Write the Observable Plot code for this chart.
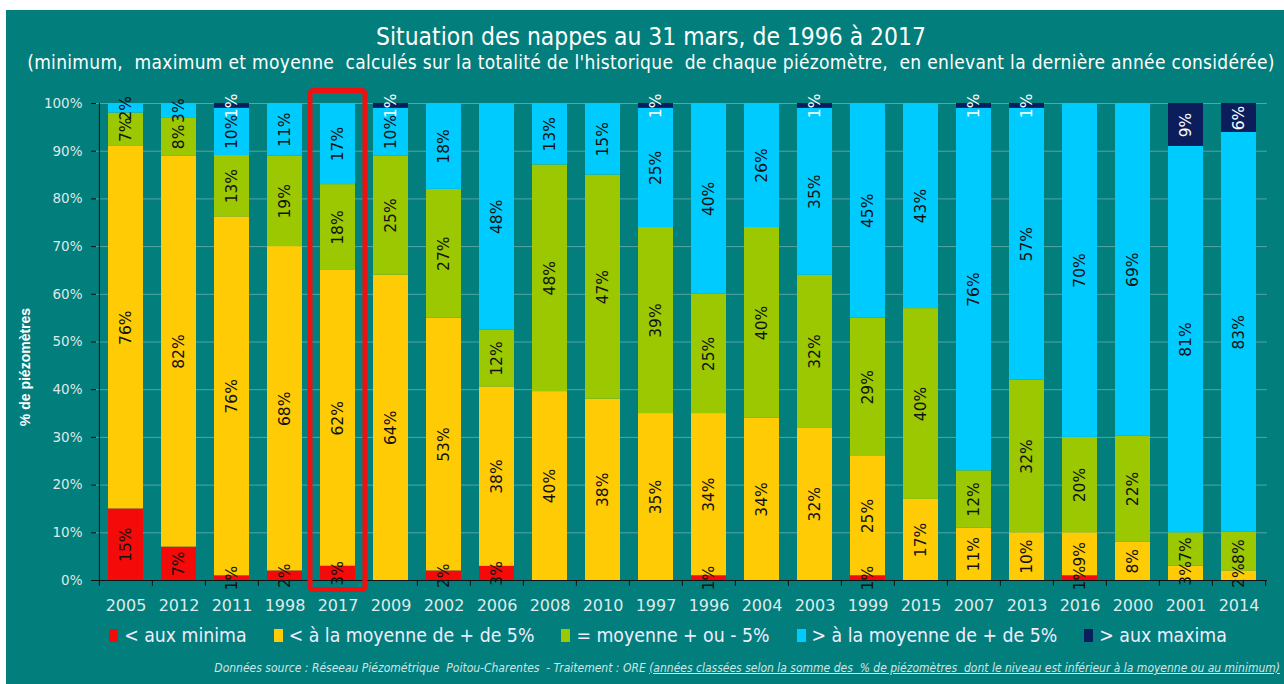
<!DOCTYPE html>
<html><head><meta charset="utf-8">
<script src="https://cdn.jsdelivr.net/npm/d3@7"></script>
<script src="https://cdn.jsdelivr.net/npm/@observablehq/plot@0.6"></script>
<style>
html,body{margin:0;padding:0;background:#fff;width:1284px;height:684px;overflow:hidden;}
#wrap{position:absolute;left:6px;top:10px;width:1278px;height:674px;background:#027e7c;overflow:hidden;font-family:"Liberation Sans Narrow","DejaVu Sans Condensed",sans-serif;color:#fff;}
#title{position:absolute;top:12px;left:0;width:1290px;text-align:center;font-size:24.4px;white-space:nowrap;}
#subtitle{position:absolute;top:41px;left:0;width:1290px;text-align:center;font-size:19px;white-space:nowrap;letter-spacing:0.3px;}
#chart{position:absolute;top:70px;left:0;}
#ytitle{position:absolute;left:19px;top:357px;transform:translate(-50%,-50%) rotate(-90deg);font-family:"Liberation Sans",sans-serif;font-weight:bold;font-size:14px;white-space:nowrap;}
#legend{position:absolute;top:614px;left:23px;width:1278px;display:flex;justify-content:center;font-size:19.3px;color:#eef;}
#legend .item{display:flex;align-items:center;margin:0 13.5px;}
#legend .sw{width:9px;height:13px;margin-right:6px;}
#footer{position:absolute;top:651px;right:4px;font-size:12px;font-style:italic;color:#cfe6e6;white-space:nowrap;}
#footer u{text-decoration:underline;}
</style></head>
<body>
<div id="wrap">
<div id="title">Situation des nappes au 31 mars, de 1996 à 2017</div>
<div id="subtitle">(minimum,&nbsp; maximum et moyenne &nbsp;calculés sur la totalité de l'historique &nbsp;de chaque piézomètre, &nbsp;en enlevant la dernière année considérée)</div>
<div id="chart"></div>
<div id="ytitle">% de piézomètres</div>
<div id="legend"></div>
<div id="footer">Données source : Réseeau Piézométrique &nbsp;Poitou-Charentes &nbsp;- Traitement : ORE <u>(années classées selon la somme des &nbsp;% de piézomètres &nbsp;dont le niveau est inférieur à la moyenne ou au minimum)</u></div>
</div>
<script>
const years = ["2005","2012","2011","1998","2017","2009","2002","2006","2008","2010","1997","1996","2004","2003","1999","2015","2007","2013","2016","2000","2001","2014"];
const minima = [15,7,1,2,3,0,2,3,0,0,0,1,0,0,1,0,0,0,1,0,0,0];
const below  = [76,82,76,68,62,64,53,38,40,38,35,34,34,32,25,17,11,10,9,8,3,2];
const mean   = [7,8,13,19,18,25,27,12,48,47,39,25,40,32,29,40,12,32,20,22,7,8];
const above  = [2,3,10,11,17,10,18,48,13,15,25,40,26,35,45,43,76,57,70,69,81,83];
const maxima = [0,0,1,0,0,1,0,0,0,0,1,0,0,1,0,0,1,1,0,0,9,6];
const categories = ["< aux minima","< à la moyenne de + de 5%","= moyenne + ou - 5%","> à la moyenne de + de 5%","> aux maxima"];
const colors = ["#f50a0a","#ffcb05","#9bc800","#00cbff","#0b1e5b"];
const highlight = ["2017"];
const yTicks = [0,0.1,0.2,0.3,0.4,0.5,0.6,0.7,0.8,0.9,1];

const series = [minima, below, mean, above, maxima];
const data = years.flatMap((y,i)=>series.map((s,k)=>({year:y, cat:categories[k], value:s[i]}))).filter(d=>d.value>0);

const W=1278, H=545, ml=90, mr=17, mt=23, mb=45;
const step=(W-ml-mr)/years.length;
const stk = {x:"year", y:"value", z:"cat", offset:"normalize"};

const chart = Plot.plot({
  width:W, height:H, marginLeft:ml, marginRight:mr, marginTop:mt, marginBottom:mb,
  style:{background:"transparent", color:"#e4f0f0", fontFamily:"DejaVu Sans, sans-serif", overflow:"visible"},
  x:{domain:years, paddingInner:0.34, paddingOuter:0.17, label:null},
  y:{domain:[0,1], label:null},
  color:{domain:categories, range:colors},
  marks:[
    Plot.gridY(yTicks.slice(1), {stroke:"#b9d6d6", strokeOpacity:0.45}),
    Plot.barY(data, Plot.stackY({...stk, fill:"cat"})),
    Plot.text(data, Plot.stackY({...stk, text:d=>d.cat!==categories[4]?d.value+"%":null, rotate:-90, fill:"#111", fontSize:15.5})),
    Plot.text(data, Plot.stackY({...stk, text:d=>d.cat===categories[4]?d.value+"%":null, rotate:-90, fill:"#fff", fontSize:15.5})),
    Plot.ruleY([0], {stroke:"#111"}),
    Plot.ruleX([years[0]], {dx:-step/2, y1:0, y2:1, stroke:"#111"}),
    Plot.ruleX(years, {dx:-step/2, y1:0, y2:-0.012, stroke:"#111"}),
    Plot.ruleX([years[years.length-1]], {dx:step/2, y1:0, y2:-0.012, stroke:"#111"}),
    Plot.axisY({ticks:yTicks, tickFormat:d=>Math.round(d*100)+"%", tickSize:5, tickPadding:9, stroke:"#111", fill:"#dde9e9", fontSize:13.5, label:null}),
    Plot.axisX({tickSize:0, tickPadding:19, fontSize:16, fill:"#dcecec", label:null}),
    Plot.barY(highlight, {x:d=>d, y1:-0.02, y2:1.026, fill:"none", stroke:"#f01010", strokeWidth:5, insetLeft:-10, insetRight:-10, rx:3})
  ]
});
document.getElementById("chart").append(chart);

const leg = document.getElementById("legend");
categories.forEach((c,i)=>{
  const it=document.createElement("div"); it.className="item";
  const sw=document.createElement("div"); sw.className="sw"; sw.style.background=colors[i];
  const t=document.createElement("span"); t.textContent=c;
  it.append(sw,t); leg.append(it);
});
</script>
</body></html>
